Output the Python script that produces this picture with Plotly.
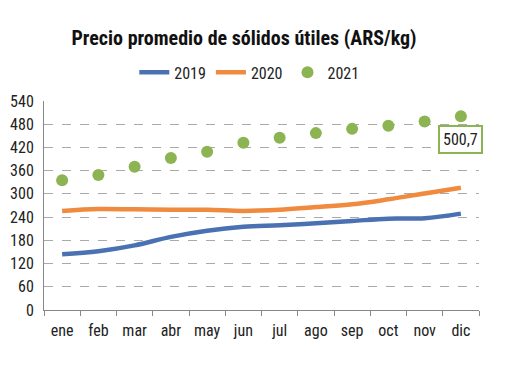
import plotly.graph_objects as go

months = ["ene", "feb", "mar", "abr", "may", "jun", "jul", "ago", "sep", "oct", "nov", "dic"]
y2019 = [144, 152, 167, 189, 205, 215, 219, 224, 230, 236, 237, 249]
y2020 = [256, 261, 260, 259, 259, 256, 259, 266, 273, 286, 301, 316]
y2021 = [335, 349, 370, 393, 409, 432, 445, 457, 468, 476, 487, 500.7]
y_ticks = [0, 60, 120, 180, 240, 300, 360, 420, 480, 540]

FONT = "Roboto Condensed, Liberation Sans Narrow, Roboto, sans-serif"

fig = go.Figure()
fig.add_trace(go.Scatter(x=months, y=y2019, name="2019", mode="lines",
                         line=dict(color="#4a72b2", width=4.5, shape="spline")))
fig.add_trace(go.Scatter(x=months, y=y2020, name="2020", mode="lines",
                         line=dict(color="#ef8a3e", width=4.5, shape="spline")))
fig.add_trace(go.Scatter(x=months, y=y2021, name="2021", mode="markers",
                         marker=dict(color="#8db452", size=12)))

fig.add_annotation(x=months[-1], y=y2021[-1], text="500,7", showarrow=False,
                   yshift=-23, font=dict(family=FONT, size=16, color="#222"),
                   bgcolor="white", bordercolor="#8db452", borderwidth=2, borderpad=3)

fig.update_layout(
    width=507, height=367,
    margin=dict(l=44, r=28, t=101, b=57, autoexpand=False),
    paper_bgcolor="white", plot_bgcolor="white",
    title=dict(text="<b>Precio promedio de sólidos útiles (ARS/kg)</b>",
               x=244 / 507, xanchor="center", y=1 - 38 / 367, yanchor="middle",
               yref="container", font=dict(family=FONT, size=20, color="#111")),
    legend=dict(orientation="h", x=0.472, xanchor="center", y=1.137, yanchor="middle",
                font=dict(family=FONT, size=16, color="#222"), itemwidth=30,
                tracegroupgap=0),
    font=dict(family=FONT, color="#222"),
)
fig.update_xaxes(range=[-0.5, 11.5], autorange=False, showline=True, linecolor="#888",
                 linewidth=1, ticks="outside", tickson="boundaries", ticklen=5,
                 tickcolor="#888", tickangle=0, ticklabelstandoff=6,
                 tickfont=dict(size=16, family=FONT), showgrid=False)
fig.update_yaxes(range=[0, 540], tickvals=y_ticks, showline=True, linecolor="#888",
                 linewidth=1, showgrid=True, gridcolor="#aaa", griddash="dash",
                 gridwidth=1, tickfont=dict(size=16, family=FONT), zeroline=False,
                 ticks="", ticklabelstandoff=6)

fig.write_html("out.html", config={"displayModeBar": False},
               post_script="document.body.style.margin='0';")
